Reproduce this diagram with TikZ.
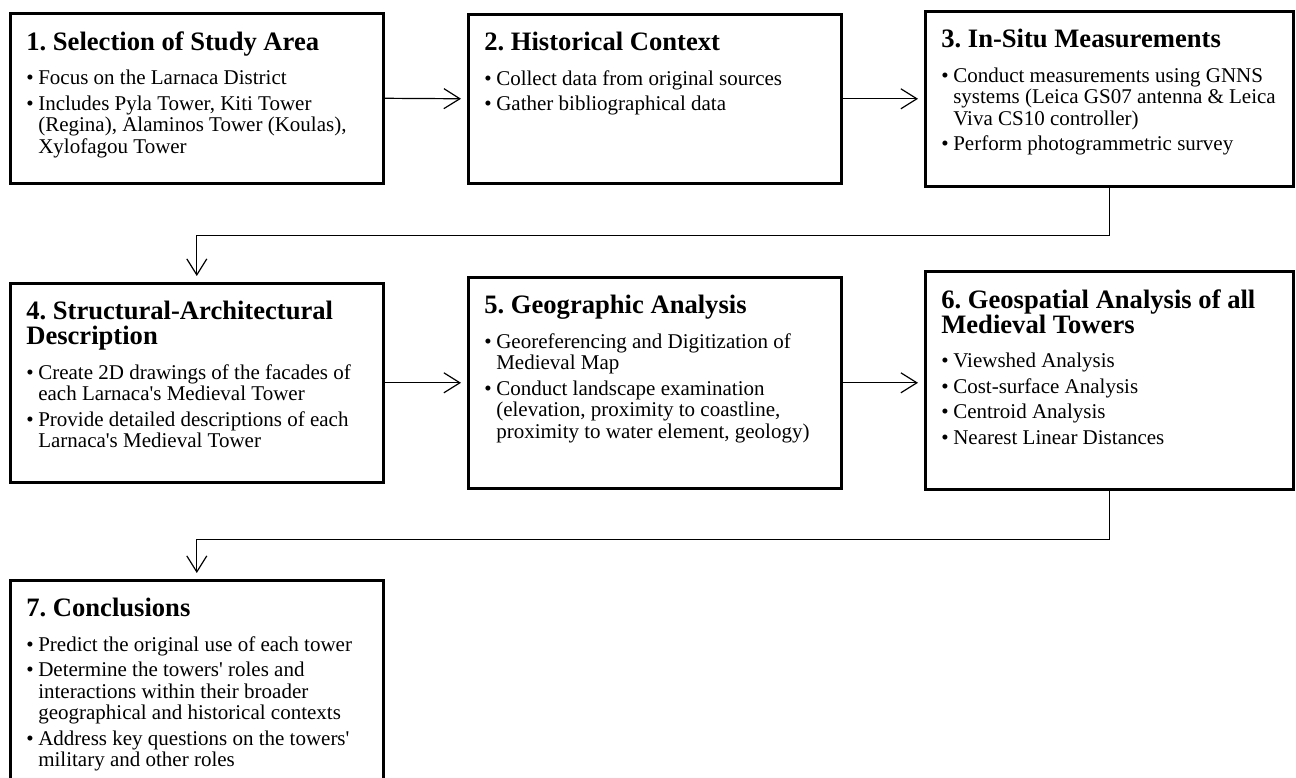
\documentclass[tikz,border=0pt]{standalone}
\usepackage{fontspec}
\setmainfont{Liberation Serif}
\usetikzlibrary{arrows.meta}
% box texts
\newcommand\stagetitle[1]{{\fontsize{13.3}{12.5}\selectfont\bfseries #1\par}\vspace{4.5pt}}
\newcommand\bul[1]{\par\vspace{2pt}\hangindent=6pt\hangafter=1\makebox[6pt][l]{\textbullet}#1\par}
\newcommand\stagebox[3]{\parbox[t][#2][t]{#1}{\vspace*{3pt}\frenchspacing\fontsize{10.5}{10.75}\selectfont #3}}
\newcommand\aps{\textquotesingle}
\begin{document}
\begin{tikzpicture}[x=0.5pt,y=0.5pt,
  stage/.style={draw,line width=1.3pt,anchor=north west,inner xsep=8pt,inner ysep=6pt},
  conn/.style={-{Straight Barb[length=8pt,width=10pt]},line width=0.6pt,shorten >=3pt}]
\useasboundingbox (0,0) rectangle (1296,777);
% first row
\node[stage] (S1) at (9,765) {\stagebox{170.5pt}{73pt}{%
  \stagetitle{1. Selection of Study Area}
  \bul{Focus on the Larnaca District}
  \bul{Includes Pyla Tower, Kiti Tower\newline (Regina), Alaminos Tower (Koulas),\newline Xylofagou Tower}}};
\node[stage] (S2) at (467,764) {\stagebox{170.5pt}{72.5pt}{%
  \stagetitle{2. Historical Context}
  \bul{Collect data from original sources}
  \bul{Gather bibliographical data}}};
\node[stage] (S3) at (924,767) {\stagebox{168pt}{75.5pt}{%
  \stagetitle{3. In-Situ Measurements}
  \bul{Conduct measurements using GNNS\newline systems (Leica GS07 antenna \& Leica\newline Viva CS10 controller)}
  \bul{Perform photogrammetric survey}}};
% second row
\node[stage] (S4) at (9,495) {\stagebox{170.5pt}{87.5pt}{%
  \stagetitle{4. Structural-Architectural\newline Description}
  \bul{Create 2D drawings of the facades of\newline each Larnaca\aps s Medieval Tower}
  \bul{Provide detailed descriptions of each\newline Larnaca\aps s Medieval Tower}}};
\node[stage] (S5) at (467,501) {\stagebox{170.5pt}{93.5pt}{%
  \stagetitle{5. Geographic Analysis}
  \bul{Georeferencing and Digitization of\newline Medieval Map}
  \bul{Conduct landscape examination\newline (elevation, proximity to coastline,\newline proximity to water element, geology)}}};
\node[stage] (S6) at (924,507) {\stagebox{168pt}{97pt}{%
  \stagetitle{6. Geospatial Analysis of all\newline Medieval Towers}
  \bul{Viewshed Analysis}
  \bul{Cost-surface Analysis}
  \bul{Centroid Analysis}
  \bul{Nearest Linear Distances}}};
% last row
\node[stage] (S7) at (9,198) {\stagebox{170.5pt}{88.5pt}{%
  \stagetitle{7. Conclusions}
  \bul{Predict the original use of each tower}
  \bul{Determine the towers\aps{} roles and\newline interactions within their broader\newline geographical and historical contexts}
  \bul{Address key questions on the towers\aps\newline military and other roles}}};
% arrows
\draw[conn] (S1.east) -- (S2.west);
\draw[conn] (S2.east) -- (S3.west);
\draw[conn] (S3.south) -- ++(0,-48) -| (S4.north);
\draw[conn] (S4.east) -- (S5.west);
\draw[conn] (S5.east) -- (S5.east -| S6.west);
\draw[conn] (S6.south) -- ++(0,-49) -| (S7.north);
\end{tikzpicture}
\end{document}
